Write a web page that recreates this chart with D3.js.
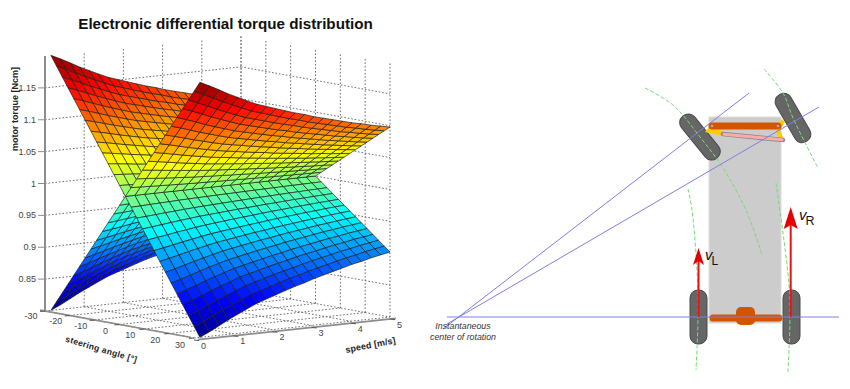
<!DOCTYPE html>
<html><head><meta charset="utf-8">
<style>html,body{margin:0;padding:0;background:#fff}svg{display:block}text{font-family:"Liberation Sans",Arial,sans-serif}</style>
<script src="https://cdn.jsdelivr.net/npm/d3@7"></script>
</head><body><svg id="c" width="850" height="389"></svg>
<script>
// ---- values ----
const titleText = "Electronic differential torque distribution";
const steeringMesh = [-30,-27.69,-25.38,-23.08,-20.77,-18.46,-16.15,-13.85,-11.54,-9.23,-6.92,-4.62,-2.31,0,2.31,4.62,6.92,9.23,11.54,13.85,16.15,18.46,20.77,23.08,25.38,27.69,30];
const speedMesh = [0.15,0.39,0.64,0.88,1.12,1.36,1.61,1.85,2.09,2.33,2.58,2.82,3.06,3.30,3.55,3.79,4.03,4.27,4.52,4.76,5];
// torque along the two outer edges of each sheet (at steering = +/-30), one value per speed;
// between them a sheet is a straight ruling through 1 Ncm at zero steering, as the mesh shows.
const torqueHighEdge = [1.200,1.193,1.185,1.177,1.170,1.163,1.156,1.151,1.146,1.141,1.136,1.132,1.127,1.123,1.119,1.115,1.111,1.108,1.104,1.101,1.098];
const torqueLowEdge  = [0.800,0.807,0.815,0.823,0.830,0.837,0.844,0.849,0.854,0.859,0.864,0.868,0.873,0.877,0.881,0.885,0.889,0.892,0.896,0.899,0.902];
const steeringTicks = [-30,-20,-10,0,10,20,30];
const speedTicks = [0,1,2,3,4,5];
const torqueTicks = [0.85,0.9,0.95,1,1.05,1.1,1.15];
const jetStops = [0.8,0.85,0.95,1.05,1.15,1.2];
const jetColors = ["#000080","#0000ff","#00ffff","#ffff00","#ff0000","#800000"];

// schematic geometry of the vehicle drawing
const rayLines = [[[443,329],[749,93]],[[447,324],[819,107]],[[447,317],[839,317]]];
const arcs = [
  [[688,189],[692,210],[697,270],[698,317],[696,370]],
  [[776,183],[783,233],[789,285],[790,317],[788,372]],
  [[645,88],[673,105],[700,137],[723,168],[746,210],[762,255]],
  [[764,69],[783,93],[793,118],[818,168]]
];
const wheels = [
  {cx:698.5,cy:317,a:0},{cx:791.5,cy:317,a:0},{cx:700,cy:137,a:-39},{cx:793,cy:118,a:-30}
];
const arrows = [
  {x:698.5,tip:248,base:265,notch:261,hw:5.5,bottom:317},
  {x:790.7,tip:207,base:229,notch:225,hw:7,bottom:317}
];
const armLeft = [[705,132],[712,123],[726,135],[718,135]];
const armRight = [[782,119],[785,122],[780,130],[784,140],[779,140],[775,128]];

// ---- scales ----
const svg = d3.select("#c");
const tS = d3.scaleLinear().domain([-30,30]).range([0,1]);
const uV = d3.scaleLinear().domain([0,5]).range([0,1]);
const hZ = d3.scaleLinear().domain([0.8,1.2]).range([0,255]);
const px = d3.scaleLinear().domain([0,1]).range([45,194]);   // steering contribution to x
const pxV = d3.scaleLinear().domain([0,1]).range([0,196]);   // speed contribution to x
const py = d3.scaleLinear().domain([0,1]).range([311,338]);
const pyV = d3.scaleLinear().domain([0,1]).range([0,-21]);
const P = (s,v,z)=>{const t=tS(s),u=uV(v);return [px(t)+pxV(u), py(t)+pyV(u)-hZ(z)];};
const depth = (s,v,z)=>193*tS(s)-150*uV(v)+36*(z-0.8)/0.4;
const jet = d3.scaleLinear().domain(jetStops).range(jetColors).interpolate(d3.interpolateRgb);
const line = d3.line();

// ---- grid ----
const grid = svg.append("g").attr("fill","none").attr("stroke","#6e6e6e").attr("stroke-width",1).attr("stroke-dasharray","1.6 1.9");
const seg = (a,b)=>grid.append("path").attr("d",line([a,b]));
torqueTicks.forEach(z=>{seg(P(-30,0,z),P(-30,5,z));seg(P(-30,5,z),P(30,5,z));});
speedTicks.forEach(v=>{ seg(P(-30,v,0.8),P(-30,v,1.2)); seg(P(-30,v,0.8),P(30,v,0.8)); });
steeringTicks.forEach(s=>{ seg(P(s,5,0.8),P(s,5,1.2)); seg(P(s,0,0.8),P(s,5,0.8)); });

// ---- surface mesh ----
const sheet = (zAtMinus,zAtPlus)=>{
  const cells=[];
  const z=(i,j)=>{const f=(steeringMesh[i]+30)/60;return zAtMinus[j]*(1-f)+zAtPlus[j]*f;};
  for(let i=0;i<steeringMesh.length-1;i++)for(let j=0;j<speedMesh.length-1;j++){
    const corners=[[i,j],[i+1,j],[i+1,j+1],[i,j+1]].map(([a,b])=>[steeringMesh[a],speedMesh[b],z(a,b)]);
    const m=corners.reduce((r,c)=>[r[0]+c[0]/4,r[1]+c[1]/4,r[2]+c[2]/4],[0,0,0]);
    cells.push({corners,mean:m[2],d:depth(m[0],m[1],m[2])});
  }
  return cells;
};
const cells = sheet(torqueHighEdge,torqueLowEdge).concat(sheet(torqueLowEdge,torqueHighEdge)).sort((a,b)=>a.d-b.d);
svg.append("g").selectAll("path").data(cells).join("path")
  .attr("d",c=>line(c.corners.map(k=>P(k[0],k[1],k[2])))+"Z")
  .attr("fill",c=>jet(c.mean)).attr("stroke","#1c1c1c").attr("stroke-width",0.8).attr("stroke-opacity",0.85).attr("stroke-linejoin","round");

// ---- axes ----
const ax = svg.append("g").attr("stroke","#8c8c8c").attr("fill","none");
ax.append("path").attr("stroke-width",2).attr("d",line([[45,56],[45,312]]));
ax.append("path").attr("stroke-width",1.6).attr("d",line([P(-32,0,0.8),P(28.5,0,0.8)]));
ax.append("path").attr("stroke-width",1.6).attr("transform","translate(0,2)").attr("d",line([P(30,0.1,0.8),P(30,5.15,0.8)]));
torqueTicks.forEach(z=>{const p=P(-30,0,z);ax.append("path").attr("stroke-width",1).attr("d",line([[p[0]-7,p[1]],[p[0],p[1]]]));});
steeringTicks.forEach(s=>{const p=P(s,0,0.8);ax.append("path").attr("stroke","#555").attr("stroke-width",1).attr("d",line([[p[0],p[1]],[p[0]-5,p[1]+0.4]]));});
speedTicks.forEach(v=>{const p=P(30,v,0.8);ax.append("path").attr("stroke","#555").attr("stroke-width",1).attr("d",line([[p[0],p[1]+2],[p[0]+5,p[1]+2.6]]));});

const lab = svg.append("g").attr("fill","#444").attr("font-size",9).attr("text-anchor","middle").attr("dominant-baseline","central");
torqueTicks.forEach(z=>{const p=P(-30,0,z);lab.append("text").attr("x",36).attr("y",p[1]).attr("text-anchor","end").text(z);});
steeringTicks.forEach(s=>{const p=P(s,0,0.8);lab.append("text").attr("x",p[0]-14).attr("y",p[1]+5+(s+30)/30).text(s);});
speedTicks.forEach(v=>{const p=P(30,v,0.8);lab.append("text").attr("x",p[0]+9.5).attr("y",p[1]+7.5).text(v);});

// ---- titles ----
svg.append("text").attr("x",225.5).attr("y",28.5).attr("text-anchor","middle").attr("font-weight","bold").attr("font-size",15.2).attr("fill","#111").text(titleText);
svg.append("text").attr("transform","translate(17.5,109) rotate(-90)").attr("text-anchor","middle").attr("font-weight","bold").attr("font-size",9).attr("fill","#222").text("motor torque [Ncm]");
svg.append("text").attr("transform","translate(100.5,352) rotate(16.5)").attr("text-anchor","middle").attr("font-weight","bold").attr("font-size",8.5).attr("letter-spacing",0.3).attr("fill","#222").text("steering angle  [°]");
svg.append("text").attr("transform","translate(371,348) rotate(-11)").attr("text-anchor","middle").attr("font-weight","bold").attr("font-size",9).attr("letter-spacing",0.1).attr("fill","#222").text("speed [m/s]");

// ---- vehicle schematic ----
const veh = svg.append("g");
veh.append("rect").attr("x",709).attr("y",117).attr("width",72).attr("height",206).attr("fill","#cccccc").attr("stroke","#dcdcdc").attr("stroke-width",1);
veh.selectAll(".wheel").data(wheels).join("rect").attr("class","wheel")
  .attr("x",-8.5).attr("y",-27).attr("width",17).attr("height",54).attr("rx",8).attr("ry",8)
  .attr("transform",d=>`translate(${d.cx},${d.cy}) rotate(${d.a})`)
  .attr("fill","#666").attr("stroke","#4a4a4a").attr("stroke-width",1);
veh.append("path").attr("d",line(armLeft)+"Z").attr("fill","#ffcc00");
veh.append("path").attr("d",line(armRight)+"Z").attr("fill","#ffcc00");
veh.append("path").attr("d",line([[723,134],[783,140]])).attr("stroke","#8a8a8a").attr("stroke-width",4.6).attr("stroke-linecap","round");
veh.append("path").attr("d",line([[724,134.2],[782,139.8]])).attr("stroke","#ffaaaa").attr("stroke-width",3).attr("stroke-linecap","round");
veh.append("path").attr("d",line([[712,126],[778,126]])).attr("stroke","#d45500").attr("stroke-width",7).attr("stroke-linecap","round");
[[712,126],[778,126]].forEach(p=>veh.append("circle").attr("cx",p[0]).attr("cy",p[1]).attr("r",1.3).attr("fill","#b9a79a"));
veh.append("path").attr("d",line([[713,318],[779,318]])).attr("stroke","#d45500").attr("stroke-width",7).attr("stroke-linecap","round");
veh.append("rect").attr("x",736).attr("y",307).attr("width",19).attr("height",18).attr("rx",5).attr("fill","#d45500");

const arcLine = d3.line().curve(d3.curveCatmullRom);
veh.selectAll(".arc").data(arcs).join("path").attr("class","arc").attr("d",arcLine).attr("fill","none")
  .attr("stroke","#74dc74").attr("stroke-width",1).attr("stroke-dasharray","4 2");
veh.selectAll(".ray").data(rayLines).join("path").attr("class","ray").attr("d",line).attr("fill","none")
  .attr("stroke","#7f7fe0").attr("stroke-width",1);

arrows.forEach(a=>{
  veh.append("path").attr("d",line([[a.x,a.bottom],[a.x,a.notch]])).attr("stroke","#ee1111").attr("stroke-width",2);
  veh.append("path").attr("d",line([[a.x,a.tip],[a.x+a.hw,a.base],[a.x,a.notch],[a.x-a.hw,a.base]])+"Z").attr("fill","#e60000");
});
const vL = svg.append("text").attr("x",705).attr("y",260).attr("fill","#111");
vL.append("tspan").attr("font-style","italic").attr("font-size",15).text("v");
vL.append("tspan").attr("font-size",12).attr("dy",5).attr("dx",-1).text("L");
const vR = svg.append("text").attr("x",799).attr("y",220).attr("fill","#111");
vR.append("tspan").attr("font-style","italic").attr("font-size",15).text("v");
vR.append("tspan").attr("font-size",12.5).attr("dy",5).attr("dx",-1).text("R");
const icr = svg.append("g").attr("font-style","italic").attr("font-size",8.8).attr("fill","#333").attr("text-anchor","middle");
icr.append("text").attr("x",463).attr("y",328.5).text("Instantaneous");
icr.append("text").attr("x",463).attr("y",339.5).text("center of rotation");
</script></body></html>
